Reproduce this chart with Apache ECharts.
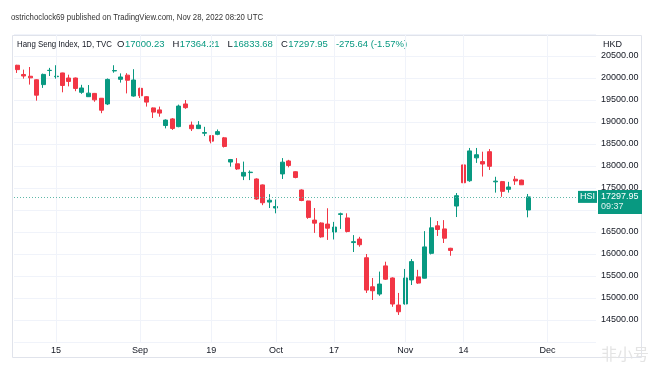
<!DOCTYPE html>
<html><head><meta charset="utf-8">
<script src="https://cdn.jsdelivr.net/npm/echarts@6/dist/echarts.min.js"></script>
<style>html,body{margin:0;padding:0;background:#fff}#c{width:657px;height:367px}</style>
</head><body><div id="c"></div><script>
// ---- data ----
const dates = [
 '2022-08-05','2022-08-08','2022-08-09','2022-08-10','2022-08-11','2022-08-12','2022-08-15','2022-08-16','2022-08-17','2022-08-18','2022-08-19','2022-08-22','2022-08-23','2022-08-24','2022-08-25','2022-08-26','2022-08-29','2022-08-30','2022-08-31',
 '2022-09-01','2022-09-02','2022-09-05','2022-09-06','2022-09-07','2022-09-08','2022-09-09','2022-09-13','2022-09-14','2022-09-15','2022-09-16','2022-09-19','2022-09-20','2022-09-21','2022-09-22','2022-09-23','2022-09-26','2022-09-27','2022-09-28','2022-09-29','2022-09-30',
 '2022-10-03','2022-10-05','2022-10-06','2022-10-07','2022-10-10','2022-10-11','2022-10-12','2022-10-13','2022-10-14','2022-10-17','2022-10-18','2022-10-19','2022-10-20','2022-10-21','2022-10-24','2022-10-25','2022-10-26','2022-10-27','2022-10-28','2022-10-31',
 '2022-11-01','2022-11-02','2022-11-03','2022-11-04','2022-11-07','2022-11-08','2022-11-09','2022-11-10','2022-11-11','2022-11-14','2022-11-15','2022-11-16','2022-11-17','2022-11-18','2022-11-21','2022-11-22','2022-11-23','2022-11-24','2022-11-25','2022-11-28'
];
const futureDates = ['2022-11-29','2022-11-30','2022-12-01','2022-12-02','2022-12-05','2022-12-06','2022-12-07','2022-12-08','2022-12-09','2022-12-12'];
const opens = [
 20290,20080,20040,19960,19850,20170,20030,20115,20000,20000,19675,19575,19650,19540,19410,20160,19970,20065,19590,
 19765,19575,19320,19275,18920,19070,18895,19410,18930,18850,18745,18690,18720,18640,18090,18050,17770,17850,17705,17570,17180,
 17045,17820,18115,17870,17455,17205,16770,16705,16680,16500,16900,16820,16260,16340,15915,15255,15090,15730,15455,14840,
 14865,15410,15480,15450,16015,16640,16570,16130,17090,18025,17665,18185,18100,18325,17640,17645,17470,17700,17680,17000.23
];
const closes = [
 20190,20045,20003,19610,20082,20175,20041,19830,19922,19763,19773,19656,19503,19268,19968,20170,20023,19949,19954,
 19597,19452,19225,19202,19044,18854,19362,19326,18847,18930,18761,18565,18781,18444,18147,17933,17855,17860,17250,17165,17222,
 17079,18087,18012,17740,17216,16832,16701,16389,16587,16612,16914,16511,16280,16211,15180,15165,15317,15427,14863,14687,
 15455,15827,15339,16161,16595,16557,16359,16081,17325,17619,18343,18256,18045,17993,17656,17424,17523,17660,17573,17297.95
];
const highs = [
 20300,20190,20250,19970,20100,20230,20290,20120,20075,20010,19845,19840,19660,19545,19990,20290,20105,20110,20200,
 19780,19590,19330,19350,19060,19090,19395,19500,19010,19020,18890,18700,18830,18660,18160,18180,18100,17900,17720,17580,17360,
 17240,18180,18140,17880,17470,17210,17045,16720,17040,16730,16940,16925,16430,16390,16000,15455,15600,15825,15470,15115,
 15660,15885,15640,16520,16835,16750,16770,16140,17385,18030,18410,18410,18325,18385,17755,17660,17640,17770,17690,17364.21
];
const lows = [
 20115,19985,19850,19485,19775,20045,19985,19675,19810,19700,19640,19570,19460,19200,19385,20120,19895,19650,19575,
 19545,19350,19090,19120,18855,18820,18880,19300,18795,18840,18680,18515,18700,18420,17985,17910,17680,17680,17230,17110,17045,
 16925,17705,17970,17720,17200,16800,16480,16370,16320,16330,16570,16490,16045,16165,15115,14955,15050,15410,14800,14615,
 14850,15295,15320,15445,15990,16410,16250,15960,16840,17530,17640,18070,17760,17910,17395,17300,17395,17570,17570,16833.68
];
const tickDates  = ['2022-08-15','2022-09-01','2022-09-19','2022-10-03','2022-10-17','2022-11-01','2022-11-14','2022-12-01'];
const tickLabels = ['15','Sep','19','Oct','17','Nov','14','Dec'];
const lastClose = 17297.95;
const lastTime = '09:37';
const symbolName = 'HSI';
const headerText = 'ostrichoclock69 published on TradingView.com, Nov 28, 2022 08:20 UTC';
const legendName = 'Hang Seng Index, 1D, TVC';
const legendValues = [['O','17000.23'],['H','17364.21'],['L','16833.68'],['C','17297.95']];
const legendChange = '-275.64 (-1.57%)';

// ---- chart ----
const UP = '#089981', DOWN = '#f23645', TXT = '#131722', GRIDC = '#f0f3fa';
const FONT = '"Liberation Sans", Arial, sans-serif';
const cats = dates.concat(futureDates);
const ohlc = dates.map((d, i) => [opens[i], closes[i], lows[i], highs[i]]);

const mctx = document.createElement('canvas').getContext('2d');
function textW(t, size) { mctx.font = size + 'px "Liberation Sans", Arial, sans-serif'; return mctx.measureText(t).width; }

const chart = echarts.init(document.getElementById('c'), null, {renderer: 'canvas'});
chart.setOption({
  animation: false,
  grid: {left: 14, right: 61, top: 34, bottom: 25},
  xAxis: {
    type: 'category', data: cats, boundaryGap: true,
    axisLine: {show: false}, axisTick: {show: false}, splitLine: {show: false},
    axisLabel: {interval: (i, v) => tickDates.includes(v), formatter: v => tickLabels[tickDates.indexOf(v)],
      fontSize: 9, color: TXT, margin: 4, fontFamily: FONT}
  },
  yAxis: {
    type: 'value', position: 'right', min: 14000, max: 21000, interval: 500, scale: true,
    axisLine: {show: false}, axisTick: {show: false},
    splitLine: {lineStyle: {color: GRIDC, width: 1}},
    axisLabel: {formatter: v => (v === 14000 || v === 21000) ? '' : v.toFixed(2), fontSize: 9, color: TXT, margin: 5, fontFamily: FONT}
  },
  series: [{
    type: 'candlestick', data: ohlc, barWidth: '70%',
    itemStyle: {color: UP, color0: DOWN, borderColor: UP, borderColor0: DOWN, borderWidth: 1},
    markLine: {
      silent: true, symbol: 'none', label: {show: false}, animation: false,
      data: tickDates.map(d => ({xAxis: d, lineStyle: {color: GRIDC, type: 'solid', width: 1}}))
        .concat([{yAxis: lastClose, lineStyle: {color: '#5fb8a8', type: [1, 2], width: 1}}])
    }
  }]
});

const yLast = chart.convertToPixel({yAxisIndex: 0}, lastClose);
const gridRight = 657 - 61;
const LS = 9.5;
const graphics = [
  {type: 'rect', shape: {x: 12.5, y: 35.5, width: 629, height: 322}, style: {fill: 'none', stroke: '#e0e3eb', lineWidth: 1}, silent: true, z: 0},
  {type: 'text', x: 11, y: 17, scaleX: 0.82, style: {text: headerText, fontSize: 9.5, fill: '#333', fontFamily: FONT, verticalAlign: 'middle'}},
  {type: 'text', x: 17, y: 44.5, scaleX: 95 / textW(legendName, LS), style: {text: legendName, fontSize: LS, fill: TXT, fontFamily: FONT, verticalAlign: 'middle'}},
  {type: 'text', x: 603, y: 44.5, style: {text: 'HKD', fontSize: 9, fill: TXT, fontFamily: FONT, verticalAlign: 'middle'}},
  {type: 'rect', shape: {x: gridRight - 18, y: yLast - 6, width: 19, height: 12}, style: {fill: UP}, z: 10},
  {type: 'text', x: gridRight - 8.5, y: yLast, style: {text: symbolName, fontSize: 9, fill: '#fff', fontFamily: FONT, align: 'center', verticalAlign: 'middle'}, z: 11},
  {type: 'rect', shape: {x: gridRight + 2, y: yLast - 7, width: 44, height: 24}, style: {fill: UP}, z: 10},
  {type: 'text', x: gridRight + 5, y: yLast, style: {text: lastClose.toFixed(2), fontSize: 9, fill: '#fff', fontFamily: FONT, verticalAlign: 'middle'}, z: 11},
  {type: 'text', x: gridRight + 5, y: yLast + 10, style: {text: lastTime, fontSize: 9, fill: '#e0f2ef', fontFamily: FONT, verticalAlign: 'middle'}, z: 11},
  {type: 'text', right: 8, bottom: 5, style: {text: '非小号', fontSize: 16, fill: '#e4e4e4', fontFamily: '"Noto Sans CJK SC", sans-serif'}, z: 1}
];
// legend O/H/L/C items laid out one after another
let lx = 117;
legendValues.forEach(p => {
  graphics.push({type: 'text', x: lx, y: 44.5, style: {text: p[0], fontSize: LS, fill: TXT, fontFamily: FONT, verticalAlign: 'middle'}});
  lx += textW(p[0], LS) + 0.5;
  graphics.push({type: 'text', x: lx, y: 44.5, style: {text: p[1], fontSize: LS, fill: UP, fontFamily: FONT, verticalAlign: 'middle'}});
  lx += textW(p[1], LS) + 8;
});
graphics.push({type: 'text', x: lx, y: 44.5, style: {text: legendChange, fontSize: LS, fill: UP, fontFamily: FONT, verticalAlign: 'middle'}});
chart.setOption({graphic: graphics});
</script></body></html>
